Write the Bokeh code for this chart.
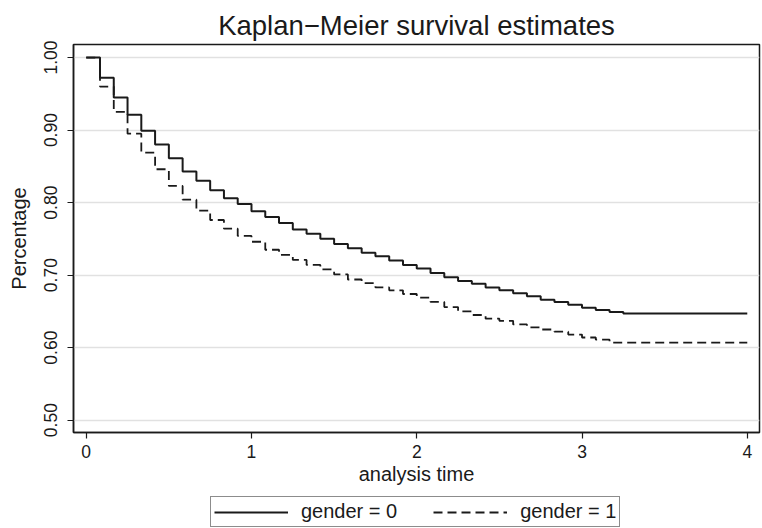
from bokeh.plotting import figure
from bokeh.layouts import column
from bokeh.models import Range1d, FixedTicker, NumeralTickFormatter, Legend, LegendItem, ColumnDataSource
from bokeh.embed import file_html
from bokeh.resources import INLINE

# step times (months) and survival estimates
months = [0, 1, 2, 3, 4, 5, 6, 7, 8, 9, 10, 11, 12, 13, 14, 15, 16, 17, 18, 19,
          20, 21, 22, 23, 24, 25, 26, 27, 28, 29, 30, 31, 32, 33, 34, 35, 36, 37, 38, 39, 48]
surv_gender0 = [1.000, 0.972, 0.945, 0.921, 0.899, 0.880, 0.861, 0.843, 0.830, 0.817,
                0.806, 0.798, 0.788, 0.780, 0.772, 0.763, 0.757, 0.750, 0.743, 0.737,
                0.731, 0.726, 0.720, 0.714, 0.709, 0.703, 0.697, 0.692, 0.688, 0.683,
                0.679, 0.675, 0.671, 0.666, 0.663, 0.659, 0.655, 0.652, 0.649, 0.647, 0.647]
surv_gender1 = [1.000, 0.960, 0.925, 0.895, 0.869, 0.846, 0.823, 0.804, 0.789, 0.776,
                0.764, 0.754, 0.746, 0.735, 0.728, 0.721, 0.714, 0.708, 0.701, 0.694,
                0.689, 0.683, 0.679, 0.674, 0.669, 0.663, 0.656, 0.650, 0.645, 0.640,
                0.637, 0.632, 0.628, 0.625, 0.622, 0.618, 0.614, 0.611, 0.607, 0.607, 0.607]
series_labels = ["gender = 0", "gender = 1"]
x_ticks = [0, 1, 2, 3, 4]
y_ticks = [0.5, 0.6, 0.7, 0.8, 0.9, 1.0]

times = [m / 12 for m in months]

FONT = "Liberation Sans"
INK = "#1a1a1a"
SOLID = dict(line_color=INK, line_width=2)
DASHED = dict(line_color=INK, line_width=1.8, line_dash="9 5")

p = figure(width=762, height=490, output_backend="svg", toolbar_location=None,
           x_range=Range1d(-0.077, 4.074), y_range=Range1d(0.483, 1.018),
           title="Kaplan\u2212Meier survival estimates",
           x_axis_label="analysis time", y_axis_label="Percentage",
           min_border_left=73, min_border_right=3, min_border_top=44, min_border_bottom=58)

p.title.align = "center"
p.title.text_font = FONT
p.title.text_font_size = "27.5px"
p.title.text_font_style = "normal"
p.title.text_color = INK
p.title.standoff = 8

p.background_fill_color = "white"
p.border_fill_color = "white"
p.outline_line_color = INK
p.outline_line_width = 1.5

p.xgrid.grid_line_color = None
p.ygrid.grid_line_color = "#e1e1e1"
p.ygrid.grid_line_width = 1.5

for ax in (p.xaxis[0], p.yaxis[0]):
    ax.axis_line_color = INK
    ax.axis_line_width = 1.5
    ax.major_tick_line_color = INK
    ax.major_tick_line_width = 1.2
    ax.major_tick_in = 0
    ax.major_tick_out = 6
    ax.minor_tick_line_color = None
    ax.major_label_text_font = FONT
    ax.major_label_text_font_size = "17.5px"
    ax.major_label_text_color = INK
    ax.axis_label_text_font = FONT
    ax.axis_label_text_font_size = "20px"
    ax.axis_label_text_font_style = "normal"
    ax.axis_label_text_color = INK

p.xaxis.ticker = FixedTicker(ticks=x_ticks)
p.yaxis.ticker = FixedTicker(ticks=y_ticks)
p.yaxis.formatter = NumeralTickFormatter(format="0.00")
p.yaxis.major_label_orientation = "parallel"
p.yaxis.major_label_standoff = 10
p.yaxis.axis_label_standoff = 12
p.xaxis.major_label_standoff = 6
p.xaxis.axis_label_standoff = 2

src = ColumnDataSource(dict(t=times, s0=surv_gender0, s1=surv_gender1))
p.step("t", "s1", source=src, mode="after", **DASHED)
p.step("t", "s0", source=src, mode="after", **SOLID)

# legend strip below the chart (its own renderers fall outside its view)
lg = figure(width=762, height=38, output_backend="svg", toolbar_location=None,
            x_range=Range1d(0, 1), y_range=Range1d(2, 3),
            x_axis_location=None, y_axis_location=None,
            min_border_left=0, min_border_right=0, min_border_top=0, min_border_bottom=0)
lg.grid.visible = False
lg.outline_line_color = None
lg.background_fill_color = "white"
lg.border_fill_color = "white"
d0 = lg.step("t", "s0", source=src, mode="after", **SOLID)
d1 = lg.step("t", "s1", source=src, mode="after", **DASHED)

legend = Legend(items=[LegendItem(label=series_labels[0], renderers=[d0]),
                       LegendItem(label=series_labels[1], renderers=[d1])],
                orientation="horizontal", location=(137, 1))
legend.label_text_font = FONT
legend.label_text_font_size = "20px"
legend.label_text_color = INK
legend.glyph_width = 74
legend.glyph_height = 20
legend.label_standoff = 13
legend.spacing = 36
legend.padding = 3
legend.margin = 0
legend.border_line_color = INK
legend.border_line_width = 1.2
legend.background_fill_color = "white"
lg.add_layout(legend, "center")

layout = column(p, lg, spacing=0)
open("out.html", "w").write(file_html(layout, INLINE))
